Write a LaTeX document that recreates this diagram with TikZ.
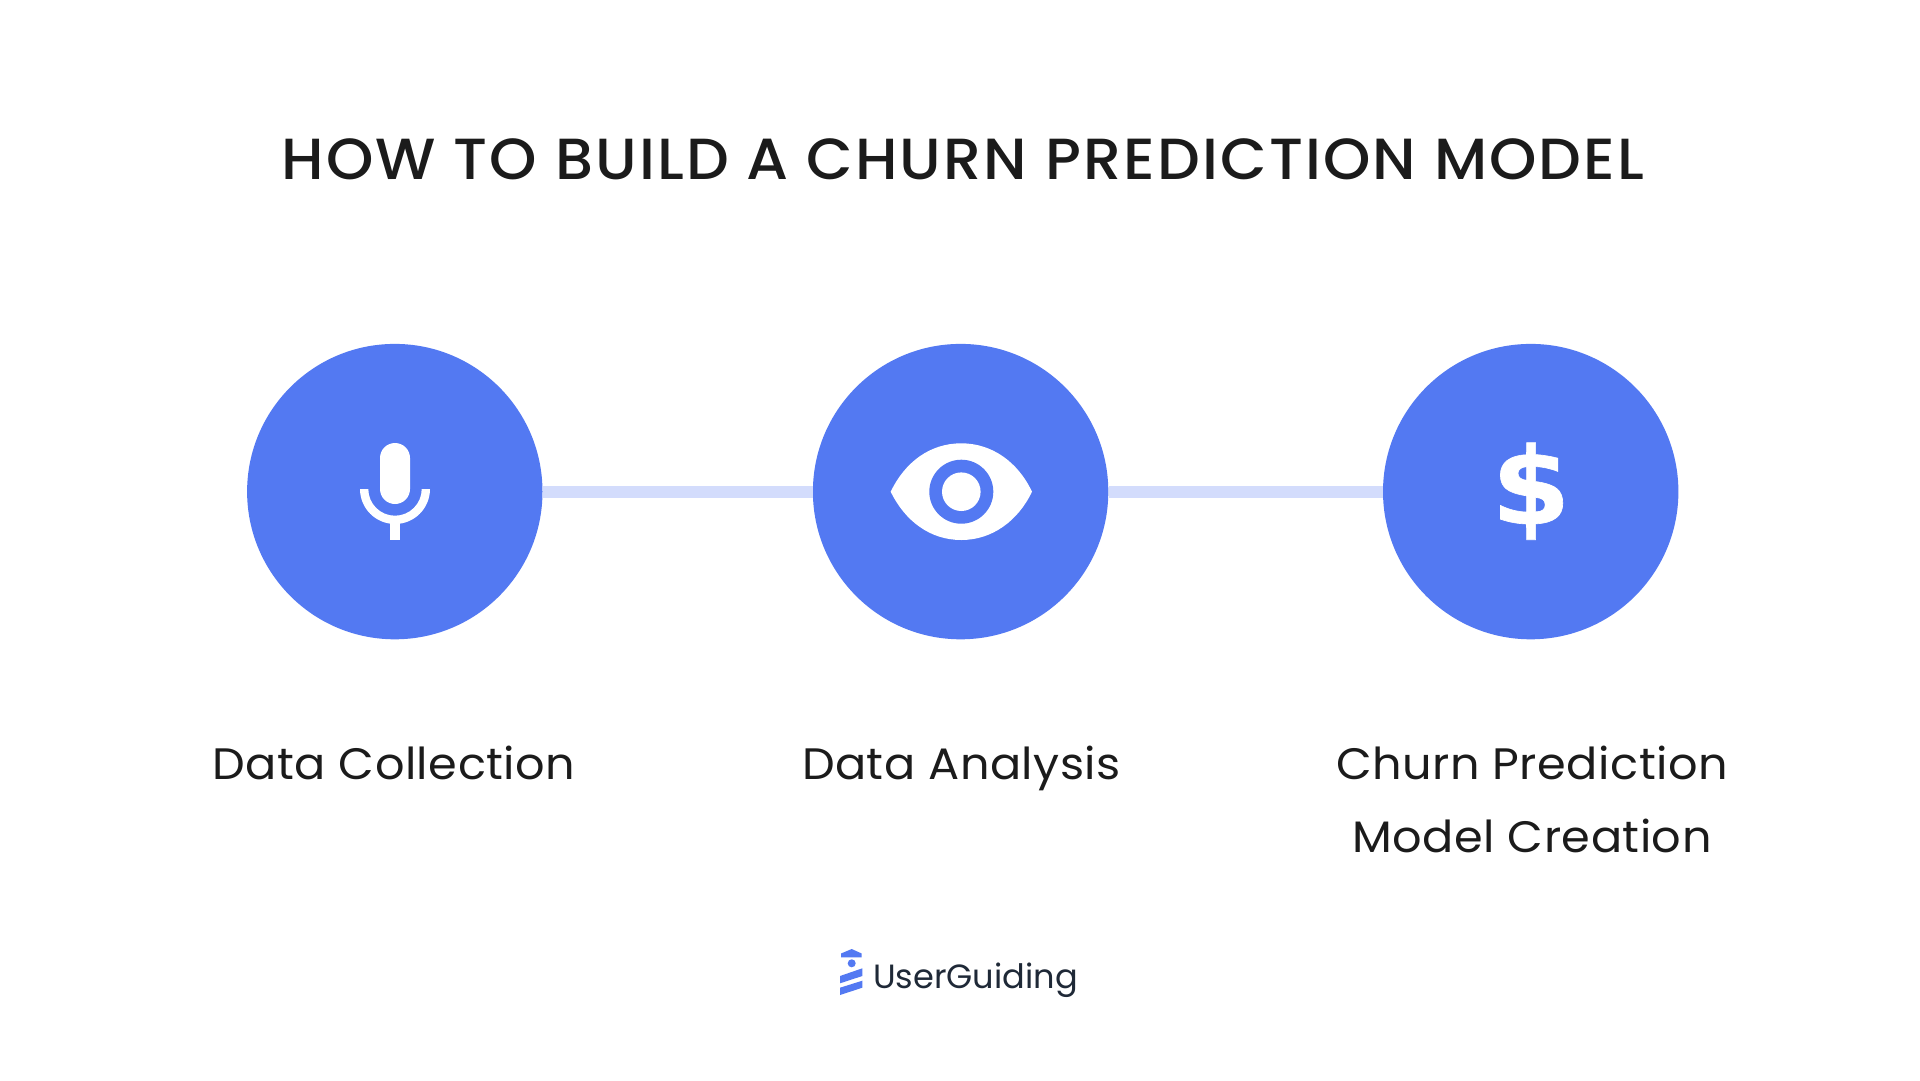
\documentclass[tikz,border=0pt]{standalone}
\usepackage{fontspec}
\setmainfont{Poppins}
\newfontfamily\titlefont{Poppins Medium}[FakeStretch=1.04,LetterSpace=3.7]
\newfontfamily\captionfont{Poppins}[FakeStretch=1.05,LetterSpace=1.2]
\newfontfamily\dollarfont{DejaVu Sans Bold}[FakeStretch=1.06,FakeBold=0.6]
\definecolor{circleblue}{HTML}{5379F2}
\definecolor{linkblue}{HTML}{D3DCFC}
\definecolor{inkblack}{HTML}{1B1B1B}
\definecolor{logoink}{HTML}{1F2937}
\tikzset{
  stage/.style={circle,fill=circleblue,minimum size=295.4pt,inner sep=0pt},
  link/.style={draw=linkblue,line width=12pt},
  caption/.style={text=inkblack,font=\captionfont\fontsize{44}{73}\selectfont,align=center,anchor=base},
}

\begin{document}
\begin{tikzpicture}[x=1pt,y=-1pt]
\fill[white] (0,0) rectangle (1920,1080);
\useasboundingbox (0,0) rectangle (1920,1080);
%
\node[text=inkblack,font=\titlefont\fontsize{58}{60}\selectfont] (title) at (963,159.5) {HOW TO BUILD A CHURN PREDICTION MODEL};
%
\node[stage] (collect) at (394.8,491.6) {};
\node[stage] (analyse) at (960.6,491.6) {};
\node[stage] (predict) at (1530.7,491.6) {};
\draw[link] (collect) -- (analyse);
\draw[link] (analyse) -- (predict);
% microphone
\fill[white] (380,458) arc (180:360:15) -- (410,489) arc (0:180:15) -- cycle;
\fill[white] (360,489) arc (180:0:35) -- (421.7,489) arc (0:180:26.7) -- cycle;
\fill[white] (390,520) rectangle (400,540);
% eye
\fill[white] (890.7,491.7) .. controls (905,462) and (930,443.3) .. (961.3,443.3) .. controls (992,443.3) and (1018,462) .. (1032,491.7) .. controls (1018,521) and (992,540) .. (961.3,540) .. controls (930,540) and (905,521) .. (890.7,491.7) -- cycle;
\fill[circleblue] (961.3,491.7) circle (32);
\fill[white] (961.3,491.7) circle (19.3);
% dollar
\node[text=white,font=\dollarfont\fontsize{107}{107}\selectfont,inner sep=0pt] (dollar) at (1531,491.2) {\$};
%
\node[caption] (collectlabel) at (394,779) {Data Collection};
\node[caption] (analyselabel) at (961.5,779) {Data Analysis};
\node[caption] (predictlabel) at (1532,852.5) {Churn Prediction\\Model Creation};
% logo
\fill[circleblue] (841,953.5) -- (851.7,949) -- (861.7,953.5) -- (861.7,957.3) -- (841,957.3) -- cycle;
\fill[circleblue] (851.7,963.3) circle (4);
\fill[circleblue] (840,976) -- (862.3,968.3) -- (862.3,976) -- (840,983.3) -- cycle;
\fill[circleblue] (840,987.7) -- (862.3,980.7) -- (862.3,987.7) -- (840,995) -- cycle;
\node[text=logoink,font=\fontsize{33.6}{40}\selectfont,anchor=base west,inner sep=0pt] (logotext) at (873,988) {UserGuiding};
\end{tikzpicture}
\end{document}
